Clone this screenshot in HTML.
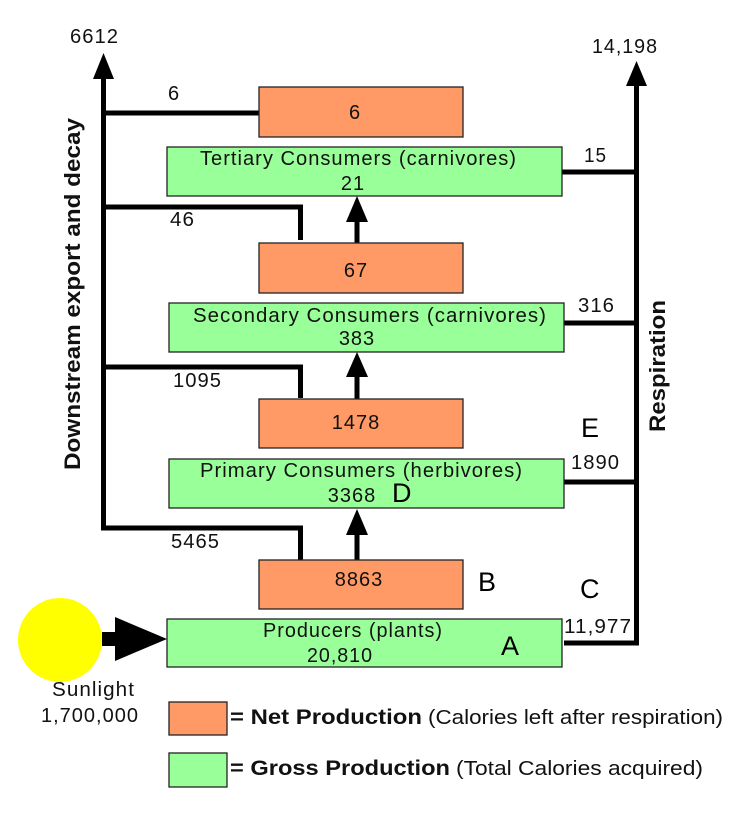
<!DOCTYPE html>
<html>
<head>
<meta charset="utf-8">
<style>
  html, body { margin: 0; padding: 0; background: #ffffff; }
  svg { display: block; }
  text { font-family: "Liberation Sans", Arial, sans-serif; fill: #111; }
  .n { font-size: 20px; letter-spacing: 1px; }
  .b { font-weight: bold; }
  .L { font-size: 27px; fill: #000; }
</style>
</head>
<body>
<svg width="754" height="840" viewBox="0 0 754 840" xmlns="http://www.w3.org/2000/svg">
  <rect x="0" y="0" width="754" height="840" fill="#ffffff"/>

  <!-- Left "downstream" connectors -->
  <g stroke="#000" stroke-width="5" fill="none" stroke-linecap="butt" stroke-linejoin="miter">
    <polyline points="103.5,78 103.5,528 300.5,528 300.5,560"/>
    <line x1="103.5" y1="113" x2="259" y2="113"/>
    <polyline points="103.5,207 300.5,207 300.5,240"/>
    <polyline points="103.5,367 300.5,367 300.5,398"/>
  </g>
  <polygon points="103.5,53 93,79 114,79" fill="#000"/>

  <!-- Right respiration connectors -->
  <g stroke="#000" stroke-width="5" fill="none">
    <polyline points="636.5,84 636.5,643 564,643"/>
    <line x1="562" y1="172" x2="636.5" y2="172"/>
    <line x1="564" y1="323" x2="636.5" y2="323"/>
    <line x1="564" y1="482" x2="636.5" y2="482"/>
  </g>
  <polygon points="636.5,61 626,86 647,86" fill="#000"/>

  <!-- Up arrows between levels -->
  <g stroke="#000" stroke-width="5">
    <line x1="357" y1="243" x2="357" y2="218"/>
    <line x1="357" y1="399" x2="357" y2="373"/>
    <line x1="357" y1="560" x2="357" y2="531"/>
  </g>
  <g fill="#000">
    <polygon points="357,196 346,222 368,222"/>
    <polygon points="357,352 346,377 368,377"/>
    <polygon points="357,509 346,535 368,535"/>
  </g>

  <!-- Boxes -->
  <g stroke="#222" stroke-width="1.3">
    <rect x="259" y="87" width="204" height="50" fill="#ff9966"/>
    <rect x="167" y="147" width="395" height="49" fill="#99ff99"/>
    <rect x="259" y="243" width="204" height="50" fill="#ff9966"/>
    <rect x="169" y="303" width="395" height="49" fill="#99ff99"/>
    <rect x="259" y="399" width="204" height="49" fill="#ff9966"/>
    <rect x="169" y="459" width="395" height="49" fill="#99ff99"/>
    <rect x="259" y="560" width="204" height="49" fill="#ff9966"/>
    <rect x="167" y="619" width="395" height="48" fill="#99ff99"/>
  </g>

  <!-- Box text -->
  <text class="n" x="355" y="119" text-anchor="middle">6</text>
  <text class="n" x="200" y="165" textLength="317" lengthAdjust="spacingAndGlyphs">Tertiary Consumers (carnivores)</text>
  <text class="n" x="353" y="190" text-anchor="middle">21</text>
  <text class="n" x="356" y="277" text-anchor="middle">67</text>
  <text class="n" x="193" y="322" textLength="354" lengthAdjust="spacingAndGlyphs">Secondary Consumers (carnivores)</text>
  <text class="n" x="357" y="345" text-anchor="middle">383</text>
  <text class="n" x="356" y="429" text-anchor="middle">1478</text>
  <text class="n" x="200" y="477" textLength="323" lengthAdjust="spacingAndGlyphs">Primary Consumers (herbivores)</text>
  <text class="n" x="352" y="502" text-anchor="middle">3368</text>
  <text class="n" x="359" y="586" text-anchor="middle">8863</text>
  <text class="n" x="263" y="637" textLength="180" lengthAdjust="spacingAndGlyphs">Producers (plants)</text>
  <text class="n" x="307" y="662" textLength="66" lengthAdjust="spacingAndGlyphs">20,810</text>

  <!-- Flow labels -->
  <text class="n" x="70" y="43" textLength="49" lengthAdjust="spacingAndGlyphs">6612</text>
  <text class="n" x="592" y="53" textLength="66" lengthAdjust="spacingAndGlyphs">14,198</text>
  <text class="n" x="168" y="100">6</text>
  <text class="n" x="170" y="226" textLength="25" lengthAdjust="spacingAndGlyphs">46</text>
  <text class="n" x="173" y="387" textLength="49" lengthAdjust="spacingAndGlyphs">1095</text>
  <text class="n" x="171" y="548" textLength="49" lengthAdjust="spacingAndGlyphs">5465</text>
  <text class="n" x="584" y="162" textLength="23" lengthAdjust="spacingAndGlyphs">15</text>
  <text class="n" x="578" y="312" textLength="37" lengthAdjust="spacingAndGlyphs">316</text>
  <text class="n" x="571" y="469" textLength="49" lengthAdjust="spacingAndGlyphs">1890</text>
  <text class="n" x="564" y="633" textLength="68" lengthAdjust="spacingAndGlyphs">11,977</text>

  <!-- Rotated labels -->
  <text class="b" font-size="22" transform="translate(80,294) rotate(-90)" text-anchor="middle" textLength="352" lengthAdjust="spacingAndGlyphs">Downstream export and decay</text>
  <text class="b" font-size="22" transform="translate(665,366) rotate(-90)" text-anchor="middle" textLength="132" lengthAdjust="spacingAndGlyphs">Respiration</text>

  <!-- Sun and arrow -->
  <circle cx="60" cy="640" r="42" fill="#ffff00"/>
  <rect x="102" y="632" width="15" height="14" fill="#000"/>
  <polygon points="115,617 115,661 167,639" fill="#000"/>
  <text class="n" x="52" y="696" textLength="83" lengthAdjust="spacingAndGlyphs">Sunlight</text>
  <text class="n" x="41" y="722" textLength="98" lengthAdjust="spacingAndGlyphs">1,700,000</text>

  <!-- Legend -->
  <rect x="169" y="702" width="58" height="33" fill="#ff9966" stroke="#222" stroke-width="1.3"/>
  <rect x="169" y="753" width="58" height="34" fill="#99ff99" stroke="#222" stroke-width="1.3"/>
  <text class="b" font-size="21" x="230" y="724" textLength="192" lengthAdjust="spacingAndGlyphs">= Net Production</text>
  <text font-size="20" x="428" y="724" textLength="295" lengthAdjust="spacingAndGlyphs">(Calories left after respiration)</text>
  <text class="b" font-size="21" x="230" y="775" textLength="220" lengthAdjust="spacingAndGlyphs">= Gross Production</text>
  <text font-size="20" x="456" y="775" textLength="247" lengthAdjust="spacingAndGlyphs">(Total Calories acquired)</text>

  <!-- Letter labels -->
  <text class="L" x="581" y="437">E</text>
  <text class="L" x="392" y="502">D</text>
  <text class="L" x="478" y="591">B</text>
  <text class="L" x="580" y="598">C</text>
  <text class="L" x="501" y="655">A</text>
</svg>
</body>
</html>
